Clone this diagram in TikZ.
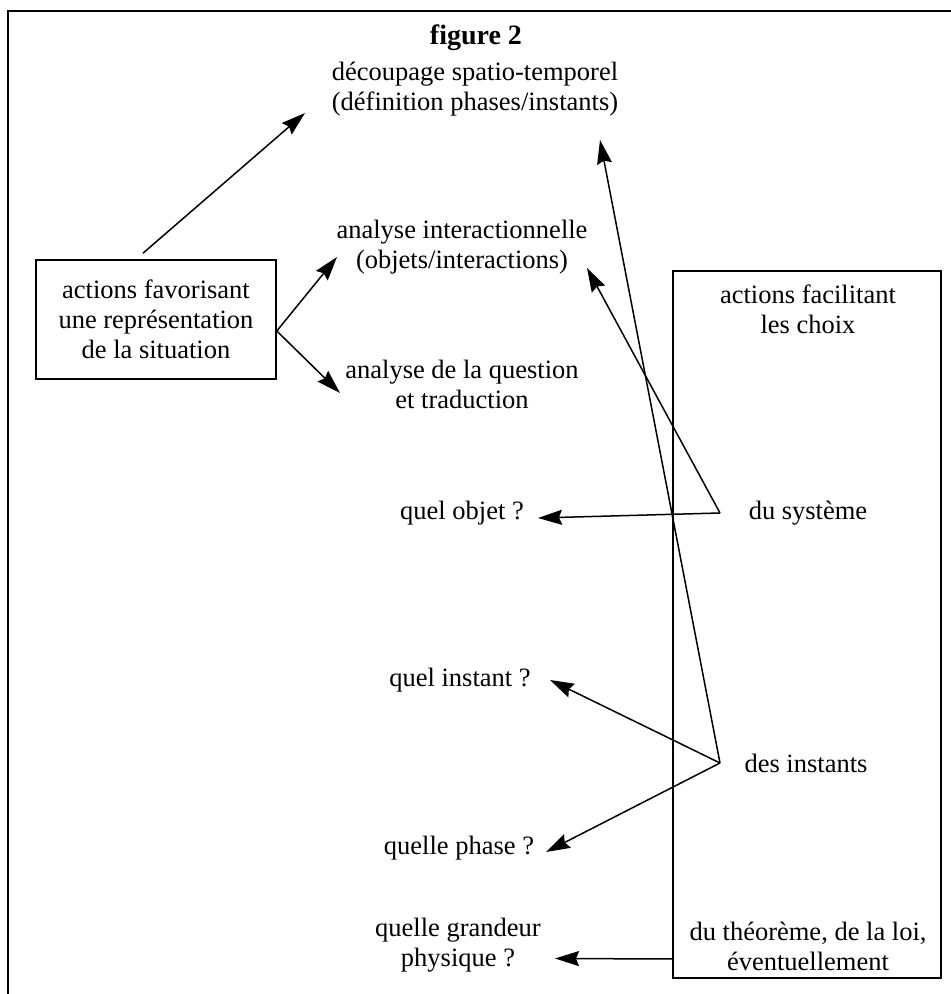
\documentclass[tikz,border=0pt]{standalone}
\usepackage{fontspec}
\setmainfont{Liberation Serif}
\usetikzlibrary{arrows.meta}
\begin{document}
\begin{tikzpicture}[x=1pt,y=1pt,
  txt/.style={inner sep=0pt, align=center, font=\fontsize{26.5}{30}\selectfont},
  boxstyle/.style={draw, line width=1.6pt, inner sep=0pt},
  arr/.style={line width=1.5pt, -{Stealth[length=24pt,width=15pt,inset=3pt]}},
  ln/.style={line width=1.5pt}]
\useasboundingbox (0,0) rectangle (951,994);
% outer frame (left and top edges)
\draw[line width=2pt] (8,0) -- (8,983) -- (951,983);
% nodes
\node[txt, font=\bfseries\fontsize{28}{30}\selectfont] (title) at (476,956) {figure 2};
\node[txt] (dec) at (475,905) {découpage spatio-temporel\\(définition phases/instants)};
\node[boxstyle, minimum width=240pt, minimum height=119pt] (lbox) at (156,674.5) {};
\node[txt] (ltext) at (156,675) {actions favorisant\\une représentation\\de la situation};
\node[txt] (ainter) at (462,746.5) {analyse interactionnelle\\(objets/interactions)};
\node[txt] (aquest) at (462,609.5) {analyse de la question\\et traduction};
\node[boxstyle, minimum width=268pt, minimum height=707pt] (rbox) at (807,369.5) {};
\node[txt] (rtitle) at (808,685) {actions facilitant\\les choix};
\node[txt] (sys) at (808,481) {du système};
\node[txt] (inst) at (806,231) {des instants};
\node[txt] (theo) at (808,48) {du théorème, de la loi,\\éventuellement};
\node[txt] (qobj) at (462,481) {quel objet ?};
\node[txt] (qinst) at (460,314) {quel instant ?};
\node[txt] (qphase) at (459,146) {quelle phase ?};
\node[txt] (qgrand) at (458,49) {quelle grandeur\\physique ?};
\coordinate (vsys) at (720,481);
\coordinate (vinst) at (720,231);
% connectors
\draw[arr] ([shift={(-13,6)}]lbox.north) -- ([shift={(-170,-24)}]dec.center);
\draw[arr] ([shift={(0,-11.5)}]lbox.east) -- ([shift={(-125,-9.5)}]ainter.center);
\draw[arr] ([shift={(0,-11.5)}]lbox.east) -- ([shift={(-122,-8.5)}]aquest.center);
\draw[arr] (vsys) -- ([shift={(76,-5)}]qobj.center);
\draw[arr] (vsys) -- ([shift={(125,-20.5)}]ainter.center);
\draw[arr] (vinst) -- ([shift={(125,-51)}]dec.center);
\draw[arr] (vinst) -- ([shift={(90,0)}]qinst.center);
\draw[arr] (vinst) -- ([shift={(87,-4)}]qphase.center);
\draw[arr] ([shift={(0,-334.5)}]rbox.west) -- ([shift={(97,-13.5)}]qgrand.center);
\end{tikzpicture}
\end{document}
